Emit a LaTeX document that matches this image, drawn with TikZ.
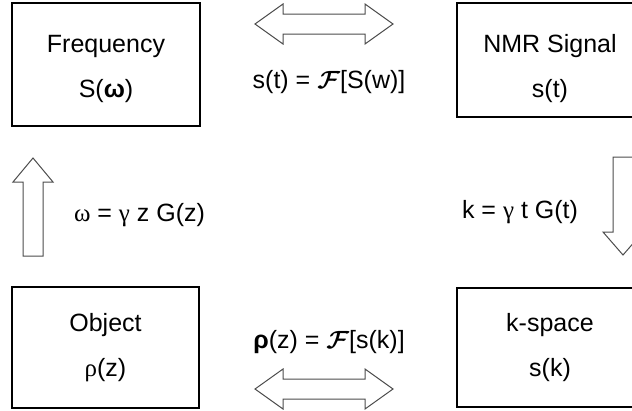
\documentclass[tikz,border=0pt]{standalone}
\usepackage{amsmath}
\usepackage{fontspec}
\setmainfont{Liberation Sans}
\newfontfamily\greekserif{Liberation Serif}
\usetikzlibrary{calc}

\begin{document}
\begin{tikzpicture}[x=1pt,y=-1pt,
  every node/.style={font=\fontsize{25}{45}\selectfont},
  stage/.style={draw=black,line width=2.6pt,align=center,inner sep=0pt},
  lbl/.style={inner sep=0pt},
  blockarrow/.style={draw=black!70,line width=1pt,fill=white,line join=miter}]
\useasboundingbox (0,0) rectangle (632,410);

% the four stages
\node[stage,minimum width=188pt,minimum height=123pt] (freq) at (106,64.5) {\rule{0pt}{27pt}Frequency\\S(\textbf{ω})};
\node[stage,minimum width=186pt,minimum height=114pt] (nmr) at (550,60) {\rule{0pt}{35pt}NMR Signal\\s(t)};
\node[stage,minimum width=187pt,minimum height=121pt] (obj) at (105.5,347.5) {Object\\{\greekserif ρ}(z)};
\node[stage,minimum width=186pt,minimum height=119pt] (kspace) at (550,347.5) {k-space\\s(k)};

% relation labels
\node[lbl] (ft) at (329,82) {s(t) = $\boldsymbol{\mathcal{F}}$[S(w)]};
\node[lbl] (gz) at (139.5,215) {{\greekserif ω} = {\greekserif γ} z G(z)};
\node[lbl] (gt) at (520,212) {k = {\greekserif γ} t G(t)};
\node[lbl] (fk) at (329,342) {\textbf{ρ}(z) = $\boldsymbol{\mathcal{F}}$[s(k)]};

% end points of the block arrows
\coordinate (topL) at (255,24);  \coordinate (topR) at (393,24);
\coordinate (botL) at (255,389); \coordinate (botR) at (393,389);
\coordinate (upTip) at (33,158); \coordinate (upTail) at (33,256);
\coordinate (dnTip) at (623,255); \coordinate (dnTail) at (623,157);

% double arrow between frequency and signal
\draw[blockarrow] (topL) -- ++(28,-20) -- ++(0,10) -- ($(topR)+(-28,-10)$) -- ++(0,-10)
  -- (topR) -- ++(-28,20) -- ++(0,-10) -- ($(topL)+(28,10)$) -- ++(0,10) -- cycle;
% double arrow between object and k-space
\draw[blockarrow] (botL) -- ++(28,-20) -- ++(0,10) -- ($(botR)+(-28,-10)$) -- ++(0,-10)
  -- (botR) -- ++(-28,20) -- ++(0,-10) -- ($(botL)+(28,10)$) -- ++(0,10) -- cycle;
% upward arrow from object to frequency
\draw[blockarrow] (upTip) -- ++(20,24) -- ++(-10,0) -- ($(upTail)+(10,0)$) -- ++(-20,0)
  -- ($(upTip)+(-10,24)$) -- ++(-10,0) -- cycle;
% downward arrow from signal to k-space
\draw[blockarrow] (dnTip) -- ++(20,-23) -- ++(-10,0) -- ($(dnTail)+(10,0)$) -- ++(-20,0)
  -- ($(dnTip)+(-10,-23)$) -- ++(-10,0) -- cycle;
\end{tikzpicture}
\end{document}
